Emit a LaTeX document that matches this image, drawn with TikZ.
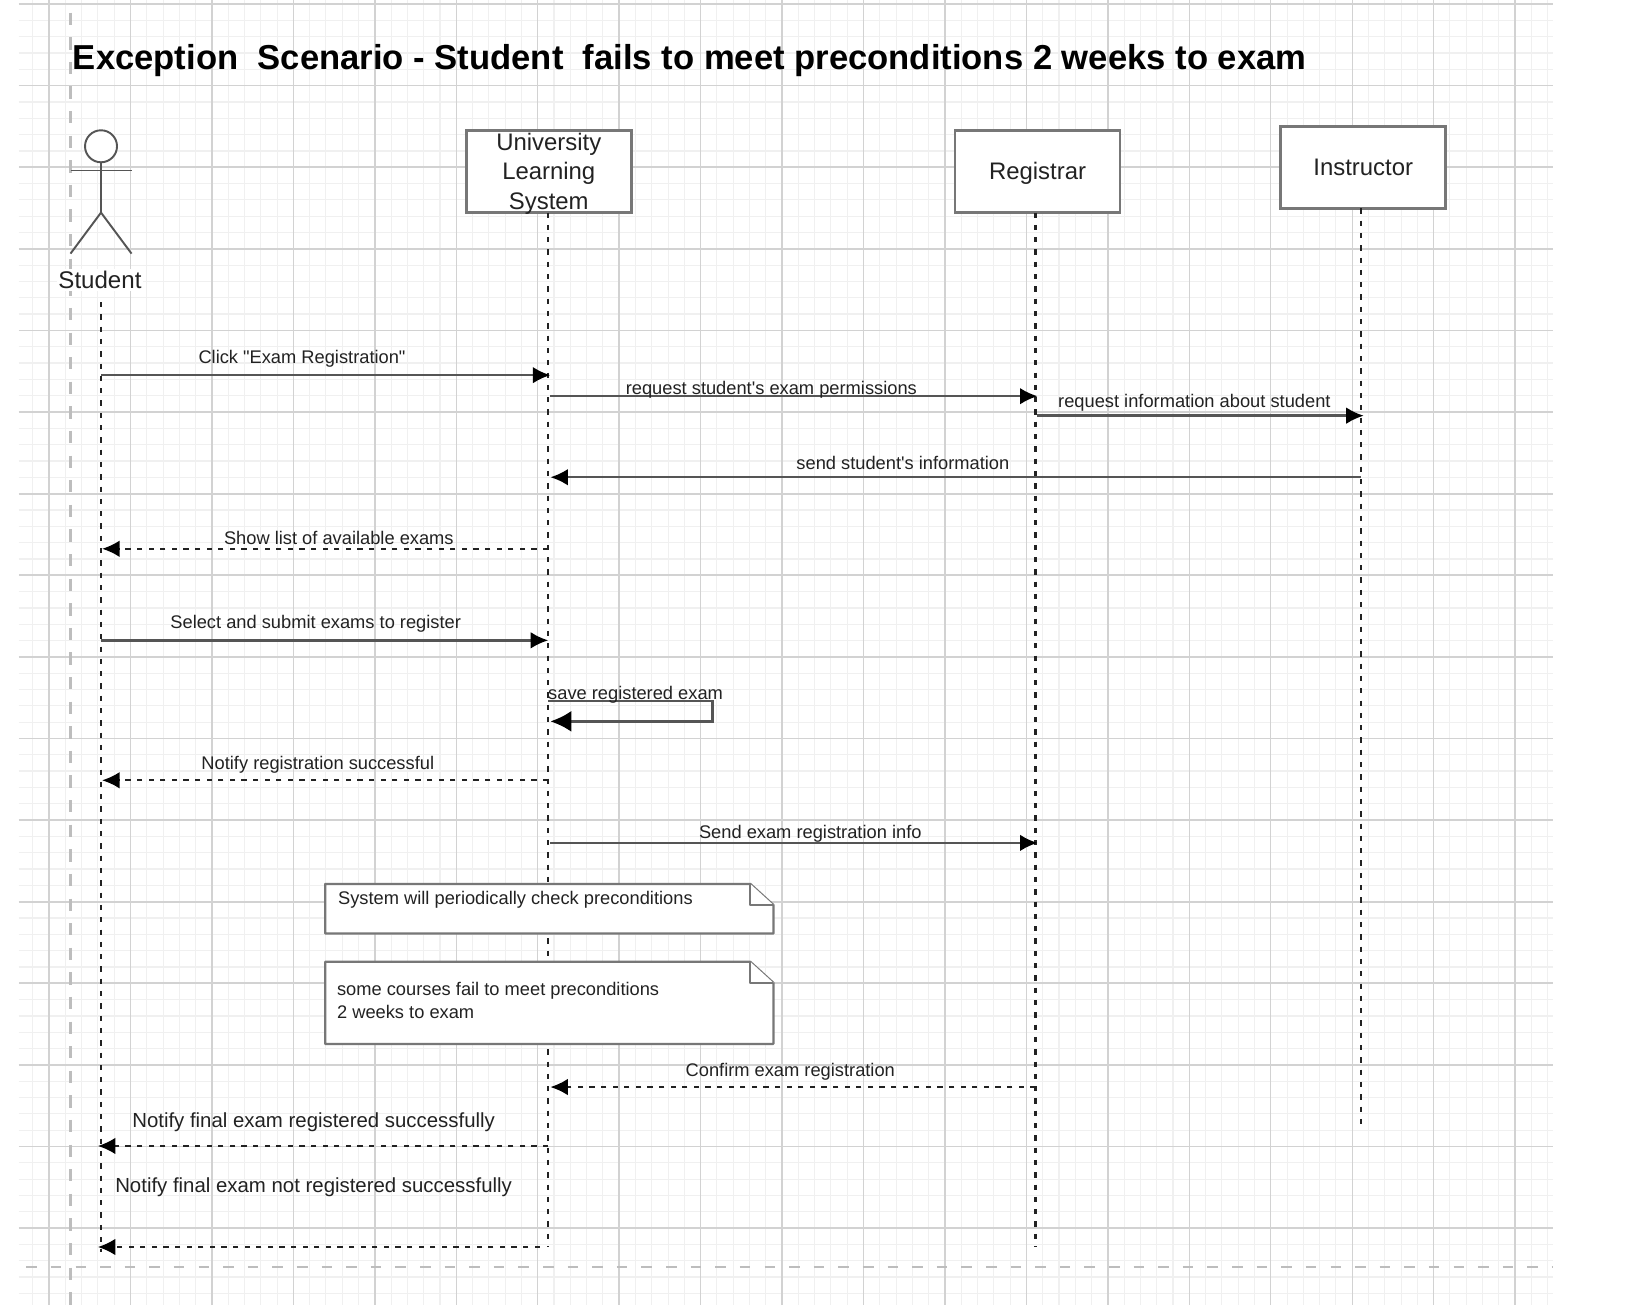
\documentclass[tikz,border=0pt]{standalone}
\usepackage{fontspec}
\setmainfont{Liberation Sans}
\newfontfamily\straight{Liberation Sans}
\usetikzlibrary{arrows.meta}
\definecolor{gridmajor}{HTML}{D2D2D2}
\definecolor{gridminor}{HTML}{F0F0F0}
\definecolor{pagebreak}{HTML}{BDBDBD}
\definecolor{boxline}{HTML}{777777}
\definecolor{msgline}{HTML}{555555}
\definecolor{ink}{HTML}{222222}
\newcommand{\lowertext}[1]{\raisebox{-1.2pt}[\height][\depth]{#1}}
\tikzset{
  box/.style={draw=boxline,line width=1.5pt,fill=white,minimum width=3.30cm,minimum height=1.64cm,inner sep=0pt,align=center,font=\fontsize{13.6}{16.6}\selectfont,text=ink},
  life/.style={draw=ink,line width=1.2pt,dash pattern=on 3pt off 4pt},
  msg/.style={draw=msgline,line width=1.4pt,-{Latex[length=10pt,width=9.5pt,black]}},
  ret/.style={draw=ink,line width=1.2pt,dash pattern=on 3pt off 3.6pt,-{Latex[length=10pt,width=9.5pt,black]}},
  lab/.style={font=\straight\fontsize{10.4}{12}\selectfont,text=ink,inner sep=0pt,yshift=-1.4pt},
  biglab/.style={font=\straight\fontsize{11.6}{13}\selectfont,text=ink,inner sep=0pt,yshift=-1.4pt},
  notebody/.style={draw=boxline,line width=1.3pt,fill=white,line join=round},
  actorline/.style={draw=msgline,line width=1.1pt},
}
\begin{document}
\begin{tikzpicture}[x=0.021046cm,y=-0.021046cm]
\useasboundingbox (0,0) rectangle (1568,1240);
\fill[white] (0,0) rectangle (1568,1240);
% grid
\foreach \k in {0,...,93} {\draw[gridminor,line width=0.6pt] ({31.1+15.48*\k},0) -- ({31.1+15.48*\k},1240);}
\foreach \k in {0,...,79} {\draw[gridminor,line width=0.7pt] (18,{3.8+15.51*\k}) -- (1476,{3.8+15.51*\k});}
\foreach \k in {0,...,18} {\draw[gridmajor,line width=0.8pt] ({46.6+77.4*\k},0) -- ({46.6+77.4*\k},1240);}
\foreach \k in {0,...,15} {\draw[gridmajor,line width=1pt] (18,{3.8+77.55*\k}) -- (1476,{3.8+77.55*\k});}
\draw[pagebreak,line width=1.3pt,dash pattern=on 7pt off 7pt] (67,12) -- (67,1240);
\draw[pagebreak,line width=1.3pt,dash pattern=on 6pt off 8pt] (25,1204) -- (1476,1204);
% title
\node[anchor=west,inner sep=0pt,font=\bfseries\fontsize{19.7}{22}\selectfont,text=black] (title) at (69,57.5) {Exception\ \ Scenario - Student\ \ fails to meet preconditions 2 weeks to exam};
% lifeline ends
\coordinate (endS) at (96,1190);
\coordinate (endU) at (521,1185);
\coordinate (endR) at (984,1185);
\coordinate (endI) at (1293,1072);
% actor
\node[circle,draw=msgline,line width=1.1pt,fill=white,minimum size=0.64cm,inner sep=0pt] (head) at (96,139) {};
\coordinate (armL) at (67,162);
\coordinate (armR) at (125,162);
\coordinate (hip) at (96,202);
\coordinate (legL) at (67,241);
\coordinate (legR) at (125,241);
\draw[actorline] (head.south) -- (hip);
\draw[actorline] (armL) -- (armR);
\draw[actorline] (legL) -- (hip) -- (legR);
\node[inner sep=1pt,fill=white,font=\fontsize{13.7}{15}\selectfont,text=ink] (stu) at (95,266) {Student};
% lifelines
\coordinate (stuTop) at (96,287);
\node[box] (uls) at (521.5,163) {\lowertext{University}\\\lowertext{Learning}\\\lowertext{System}};
\node[box] (reg) at (986,163) {\lowertext{Registrar}};
\node[box] (ins) at (1295.5,159) {Instructor};
\draw[life] (stuTop) -- (endS);
\draw[life] (521,202) -- (endU);
\draw[life] (984,202) -- (endR);
\draw[life] (1293,198) -- (endI);
% message end points
\coordinate (a1) at (96,356.5);   \coordinate (b1) at (523,356.5);
\coordinate (a2) at (523,376.5);  \coordinate (b2) at (986,376.5);
\coordinate (a3) at (985,395);  \coordinate (b3) at (1296,395);
\coordinate (a4) at (1293,453.5); \coordinate (b4) at (523,453.5);
\coordinate (a5) at (521,521.5);  \coordinate (b5) at (97,521.5);
\coordinate (a6) at (96,608.5);   \coordinate (b6) at (521,608.5);
\coordinate (a7) at (521,666);  \coordinate (c7) at (677,666); \coordinate (d7) at (677,685.5); \coordinate (b7) at (523,685.5);
\coordinate (a8) at (521,741.5);  \coordinate (b8) at (97,741.5);
\coordinate (a9) at (523,801);  \coordinate (b9) at (986,801);
\coordinate (a10) at (984,1033); \coordinate (b10) at (523,1033);
\coordinate (a11) at (521,1089); \coordinate (b11) at (93,1089);
\coordinate (a12) at (513,1185); \coordinate (b12) at (93,1185);
\draw[msg] (a1) -- (b1);
\draw[msg] (a2) -- (b2);
\draw[msg] (a3) -- (b3);
\draw[msg] (a4) -- (b4);
\draw[ret] (a5) -- (b5);
\draw[msg] (a6) -- (b6);
\draw[msg,-{Latex[length=12pt,width=12pt,black]}] (a7) -- (c7) -- (d7) -- (b7);
\draw[ret] (a8) -- (b8);
\draw[msg] (a9) -- (b9);
\draw[ret] (a10) -- (b10);
\draw[ret] (a11) -- (b11);
\draw[ret] (a12) -- (b12);
% labels
\node[lab] (l1) at (287,339) {Click "Exam Registration"};
\node[lab] (l2) at (733,368) {request student's exam permissions};
\node[lab] (l3) at (1135,380) {request information about student};
\node[lab] (l4) at (858,438) {send student's information};
\node[lab] (l5) at (322,509) {Show list of available exams};
\node[lab] (l6) at (300,590) {Select and submit exams to register};
\node[lab] (l7) at (604,658) {save registered exam};
\node[lab] (l8) at (302,724) {Notify registration successful};
\node[lab] (l9) at (770,790) {Send exam registration info};
\node[lab] (l10) at (751,1016) {Confirm exam registration};
\node[biglab] (l11) at (298,1064) {Notify final exam registered successfully};
\node[biglab] (l12) at (298,1126) {Notify final exam not registered successfully};
% notes
\draw[notebody] (309,840) -- (713,840) -- (735,860) -- (735,887) -- (309,887) -- cycle;
\draw[notebody] (713,840) -- (713,860) -- (735,860);
\node[lab,anchor=west] (n1) at (321,853) {System will periodically check preconditions};
\draw[notebody] (309,914) -- (713,914) -- (735,934) -- (735,992) -- (309,992) -- cycle;
\draw[notebody] (713,914) -- (713,934) -- (735,934);
\node[lab,anchor=west] (n2a) at (320,939) {some courses fail to meet preconditions};
\node[lab,anchor=west] (n2b) at (320,959) {2 weeks to exam};
\end{tikzpicture}
\end{document}
